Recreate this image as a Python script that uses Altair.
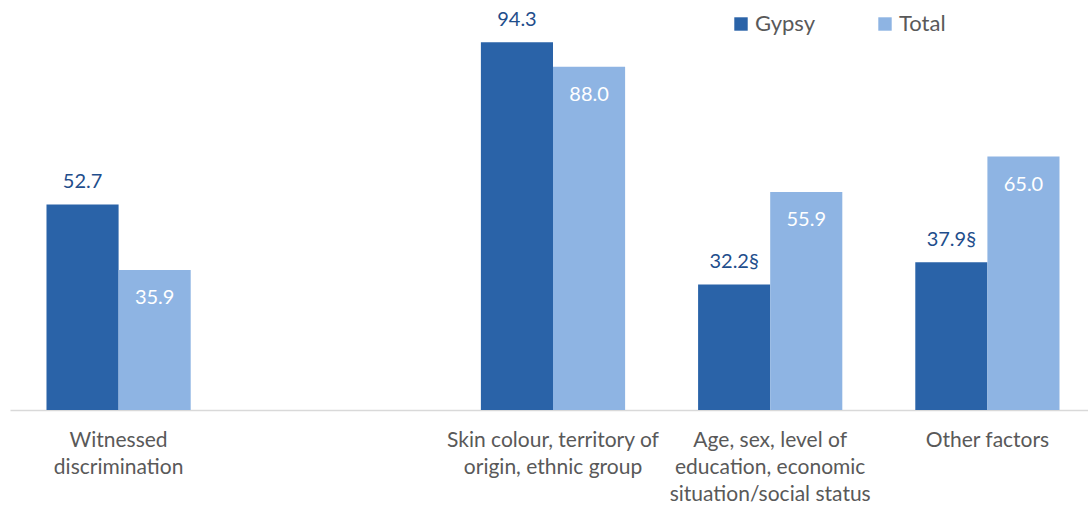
import altair as alt
import pandas as pd

categories = [
    "Witnessed|discrimination",
    " ",
    "Skin colour, territory of|origin, ethnic group",
    "Age, sex, level of|education, economic|situation/social status",
    "Other factors",
]
series = ["Gypsy", "Total"]
gypsy_cats = [categories[0], categories[2], categories[3], categories[4]]
gypsy_vals = [52.7, 94.3, 32.2, 37.9]
gypsy_labels = ["52.7", "94.3", "32.2§", "37.9§"]
total_vals = [35.9, 88.0, 55.9, 65.0]
total_labels = ["35.9", "88.0", "55.9", "65.0"]

rows = []
for c, v, l in zip(gypsy_cats, gypsy_vals, gypsy_labels):
    rows.append({"cat": c, "series": "Gypsy", "value": v, "label": l})
for c, v, l in zip(gypsy_cats, total_vals, total_labels):
    rows.append({"cat": c, "series": "Total", "value": v, "label": l})
df = pd.DataFrame(rows)

FONT = "Lato"
x = alt.X(
    "cat:N",
    scale=alt.Scale(domain=categories, paddingInner=0.336, paddingOuter=0.168, range=[0, 1086]),
    sort=categories,
    axis=alt.Axis(
        title=None,
        labelAngle=0,
        labelExpr="split(datum.label, '|')",
        labelFont=FONT,
        labelFontSize=21,
        labelColor="#595959",
        labelPadding=19,
        labelLineHeight=27,
        labelBaseline="top",
        ticks=False,
        domainColor="#D9D9D9",
        domainWidth=1.5,
        labelLimit=300,
        labelOverlap=False,
    ),
)
y = alt.Y("value:Q", scale=alt.Scale(domain=[0, 100]), axis=None)
xo = alt.XOffset("series:N", scale=alt.Scale(domain=series, paddingInner=0, paddingOuter=0))

base = alt.Chart(df).encode(x=x, xOffset=xo, y=y)

bars = base.mark_bar().encode(
    color=alt.Color(
        "series:N",
        scale=alt.Scale(domain=series, range=["#2A63A8", "#8EB4E3"]),
        legend=alt.Legend(
            title=None,
            orient="none",
            legendX=720,
            legendY=-7,
            direction="horizontal",
            symbolType="square",
            symbolSize=180,
            symbolStrokeWidth=0,
            labelFont=FONT,
            labelFontSize=22,
            labelColor="#595959",
            labelOffset=3,
            columnPadding=59,
        ),
    )
)

gy_text = base.transform_filter(alt.datum.series == "Gypsy").mark_text(
    baseline="bottom", dy=-12, font=FONT, fontSize=20, color="#1F4E8C"
).encode(text="label:N")

tot_text = base.transform_filter(alt.datum.series == "Total").mark_text(
    baseline="top", dy=18, font=FONT, fontSize=20, color="white"
).encode(text="label:N")

chart = (
    alt.layer(bars, gy_text, tot_text)
    .properties(
        width=1078,
        height=390,
        autosize=alt.AutoSizeParams(type="none"),
        padding={"left": 10, "top": 20, "right": 0, "bottom": 98},
        view=alt.ViewBackground(stroke=None, strokeWidth=0),
    )
    .configure_view(strokeWidth=0, stroke=None)
    .configure(background="white")
)

chart.save("out.html", embed_options={"renderer": "svg", "actions": False})
